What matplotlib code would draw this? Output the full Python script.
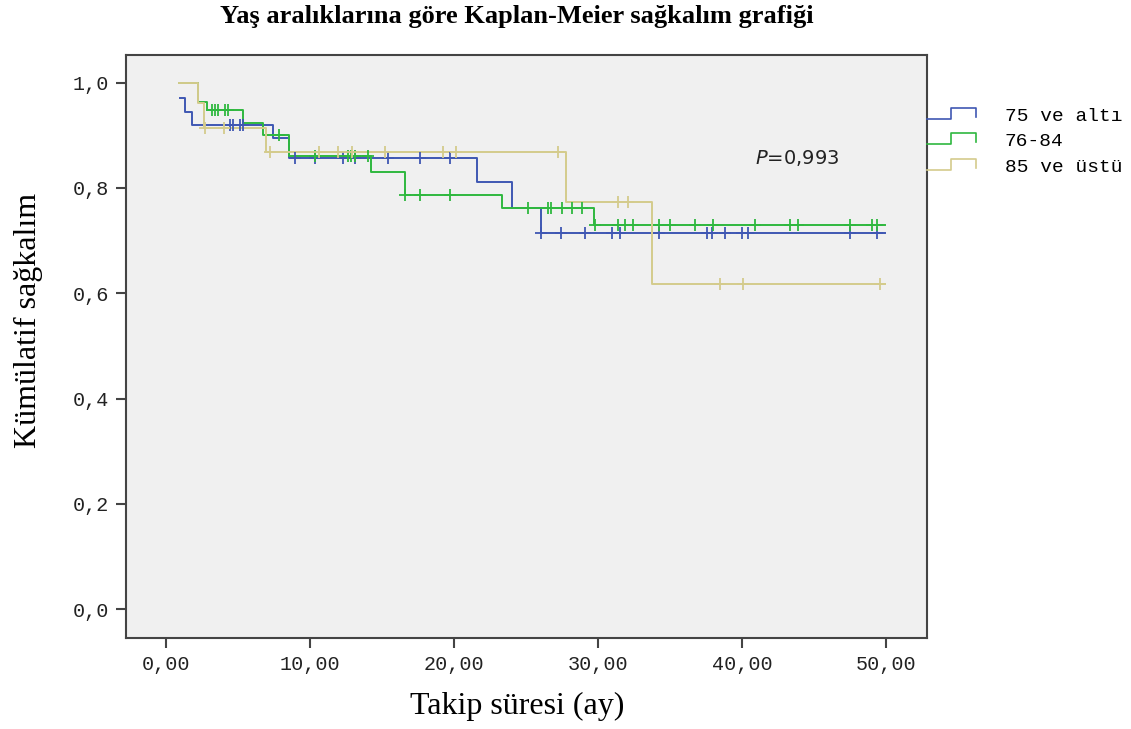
import numpy as np
import matplotlib
matplotlib.use("Agg")
import matplotlib.pyplot as plt
from matplotlib.lines import Line2D
from matplotlib.legend_handler import HandlerBase

# Kaplan-Meier steps (months, survival)
grp_names = ['75 ve altı', '76-84', '85 ve üstü']
grp_colors = ['#3f57b3', '#2fb83f', '#d4cb8c']

blue_t = [0.97, 1.3, 1.8, 7.4, 8.5, 21.6, 24.0, 26.0, 49.9]
blue_s = [0.971, 0.945, 0.920, 0.895, 0.857, 0.812, 0.762, 0.715, 0.715]
blue_cens = [4.4, 4.65, 5.1, 5.35, 8.96, 10.35, 12.3, 13.1, 15.4, 17.6, 19.7,
             26.0, 27.4, 29.1, 31.0, 31.5, 34.2, 37.6, 37.9, 38.8, 40.0, 40.4, 47.5, 49.4]

green_t = [0.9, 2.2, 2.85, 5.3, 6.7, 8.5, 14.2, 16.6, 23.3, 29.7, 49.9]
green_s = [1.0, 0.964, 0.949, 0.924, 0.901, 0.860, 0.831, 0.787, 0.762, 0.730, 0.730]
green_cens = [3.2, 3.4, 3.6, 4.1, 4.3, 7.8, 10.35, 12.6, 12.8, 13.1, 14.0, 16.6, 17.6, 19.7,
              25.1, 26.5, 26.7, 27.5, 28.2, 28.9, 29.8, 31.4, 31.9, 32.4, 34.2, 35.0,
              36.7, 38.0, 40.9, 43.3, 43.9, 47.5, 49.0, 49.4]

yellow_t = [0.9, 2.2, 2.6, 6.9, 27.8, 33.75, 49.9]
yellow_s = [1.0, 0.962, 0.914, 0.869, 0.774, 0.618, 0.618]
yellow_cens = [2.7, 4.0, 7.2, 10.6, 11.9, 12.9, 15.2, 19.2, 20.1, 27.2,
               31.4, 32.1, 38.5, 40.1, 49.6]

groups = [(blue_t, blue_s, blue_cens), (green_t, green_s, green_cens),
          (yellow_t, yellow_s, yellow_cens)]

xticks = [0, 10, 20, 30, 40, 50]
yticks = [0.0, 0.2, 0.4, 0.6, 0.8, 1.0]


class StepHandler(HandlerBase):
    # little step icon like the SPSS legend
    def create_artists(self, legend, orig_handle, xdescent, ydescent,
                       width, height, fontsize, trans):
        xs = np.array([0, 0.5, 0.5, 1.0, 1.0]) * width - xdescent
        ys = np.array([0.15, 0.15, 0.95, 0.95, 0.3]) * height - ydescent
        ln = Line2D(xs, ys, color=orig_handle.get_color(), lw=1.2)
        ln.set_transform(trans)
        return [ln]


fig = plt.figure(figsize=(11.31, 7.29), dpi=100)
ax = fig.add_axes([0.1114, 0.1248, 0.7082, 0.80])
ax.set_facecolor('#f0f0f0')

handles = []
for (t, s, cens), col, name in zip(groups, grp_colors, grp_names):
    h, = ax.step(t, s, where='post', color=col, lw=1.4, label=name, zorder=3)
    handles.append(h)
    # censored cases sit on the curve at their time
    idx = np.searchsorted(t, cens, side='right') - 1
    cs = np.array(s)[np.clip(idx, 0, len(s) - 1)]
    ax.plot(cens, cs, ls='none', marker='+', ms=8, mew=1.3, color=col, zorder=4)

ax.set_xlim(-2.8, 52.85)
ax.set_ylim(-0.055, 1.053)
ax.set_xticks(xticks)
ax.set_xticklabels(['%d,00' % v for v in xticks])
ax.set_yticks(yticks)
ax.set_yticklabels([('%.1f' % v).replace('.', ',') for v in yticks])
for lab in ax.get_xticklabels() + ax.get_yticklabels():
    lab.set_family('Liberation Mono')
    lab.set_fontsize(14.5)
    lab.set_color('#222222')
ax.tick_params(direction='out', length=7, width=1.5, color='#444444', pad=5)
for sp in ax.spines.values():
    sp.set_color('#444444')
    sp.set_linewidth(1.5)

ax.set_xlabel('Takip süresi (ay)', family='Liberation Serif', fontsize=23)
ax.set_ylabel('Kümülatif sağkalım', family='Liberation Serif', fontsize=23)
ax.xaxis.set_label_coords(0.488, -0.092)
ax.yaxis.set_label_coords(-0.104, 0.545)
fig.text(0.457, 0.977, 'Yaş aralıklarına göre Kaplan-Meier sağkalım grafiği',
         family='Liberation Serif', fontweight='bold', fontsize=19,
         ha='center', va='center')

ax.text(40.9, 0.857, r'$P$=0,993', fontsize=14, color='#222222', va='center',
        family='DejaVu Sans')

leg = ax.legend(handles=handles, loc='upper left', bbox_to_anchor=(1.0, 0.91),
                frameon=False, borderpad=0, borderaxespad=0,
                handlelength=2.5, handletextpad=1.5, labelspacing=0.4,
                prop={'family': 'Liberation Mono', 'size': 14},
                handler_map={Line2D: StepHandler()})

fig.savefig('out.png', dpi=100)
